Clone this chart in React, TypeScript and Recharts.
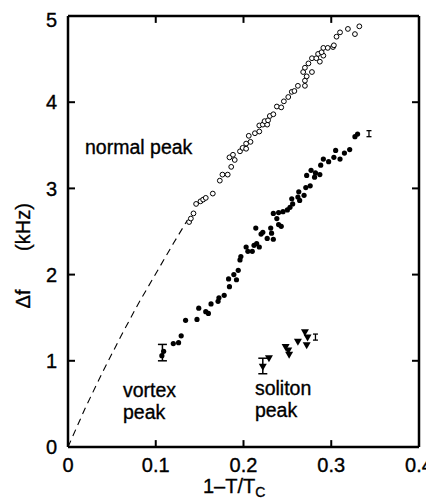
import React from 'react';
import { ScatterChart, Scatter, XAxis, YAxis, ErrorBar, ReferenceDot, ReferenceLine, Label } from 'recharts';

const FONT = '"Liberation Sans", Arial, sans-serif';

const xTicks = [0, 0.1, 0.2, 0.3, 0.4];
const yTicks = [0, 1, 2, 3, 4, 5];
const xInnerTicks = [0.1, 0.2, 0.3];
const yInnerTicks = [1, 2, 3, 4];

// normal peak, open circles [1-T/Tc, kHz]
const normalPeak = [
  [0.138, 2.61], [0.140, 2.65], [0.143, 2.71], [0.146, 2.82], [0.151, 2.85], [0.154, 2.87],
  [0.157, 2.89], [0.165, 2.94], [0.173, 3.09], [0.176, 3.16], [0.182, 3.16], [0.186, 3.25],
  [0.190, 3.33], [0.184, 3.36], [0.188, 3.39], [0.196, 3.43], [0.199, 3.47], [0.203, 3.46],
  [0.203, 3.52], [0.208, 3.54], [0.206, 3.61], [0.213, 3.64], [0.218, 3.66], [0.218, 3.73],
  [0.222, 3.74], [0.227, 3.74], [0.224, 3.78], [0.228, 3.79], [0.230, 3.84], [0.234, 3.86],
  [0.238, 3.95], [0.243, 3.94], [0.246, 4.01], [0.251, 4.06], [0.255, 4.12], [0.258, 4.13],
  [0.262, 4.19], [0.270, 4.19], [0.270, 4.25], [0.272, 4.30], [0.268, 4.35], [0.270, 4.40],
  [0.278, 4.35], [0.274, 4.45], [0.278, 4.51], [0.283, 4.51], [0.287, 4.47], [0.291, 4.54],
  [0.285, 4.56], [0.289, 4.58], [0.291, 4.63], [0.296, 4.63], [0.302, 4.64], [0.303, 4.66],
  [0.306, 4.76], [0.310, 4.81], [0.319, 4.85], [0.327, 4.79], [0.332, 4.88],
];

// vortex peak, filled dots
const vortexPeak = [
  [0.107, 1.06], [0.109, 1.11], [0.120, 1.20], [0.126, 1.21], [0.129, 1.29], [0.134, 1.47],
  [0.147, 1.48], [0.149, 1.61], [0.157, 1.57], [0.160, 1.55], [0.163, 1.66], [0.171, 1.69],
  [0.172, 1.73], [0.178, 1.76], [0.184, 1.86], [0.183, 1.95], [0.189, 2.00], [0.192, 1.94],
  [0.194, 2.05], [0.196, 2.17], [0.197, 2.21], [0.203, 2.32], [0.205, 2.27], [0.210, 2.27],
  [0.212, 2.34], [0.215, 2.36], [0.218, 2.32], [0.214, 2.54], [0.220, 2.47], [0.222, 2.49],
  [0.227, 2.42], [0.234, 2.41], [0.232, 2.48], [0.231, 2.54], [0.240, 2.58], [0.243, 2.56],
  [0.238, 2.65], [0.234, 2.71], [0.240, 2.72], [0.245, 2.73], [0.250, 2.75], [0.253, 2.78],
  [0.256, 2.82], [0.255, 2.88], [0.264, 2.86], [0.262, 2.90], [0.263, 2.96], [0.269, 2.92],
  [0.271, 3.01], [0.276, 3.03], [0.272, 3.15], [0.277, 3.21], [0.281, 3.13], [0.282, 3.18],
  [0.287, 3.16], [0.288, 3.27], [0.291, 3.34], [0.297, 3.31], [0.303, 3.36], [0.305, 3.44],
  [0.310, 3.34], [0.315, 3.41], [0.321, 3.45], [0.327, 3.60], [0.330, 3.63],
];

// soliton peak, filled down triangles
const solitonPeak = [
  [0.222, 0.93], [0.229, 1.03], [0.248, 1.16], [0.251, 1.12], [0.252, 1.07],
  [0.262, 1.22], [0.270, 1.33], [0.273, 1.27], [0.272, 1.18],
];

// dashed extrapolation of the normal peak
const normalExtrap = [
  [0, 0], [0.02, 0.46], [0.04, 0.88], [0.06, 1.28], [0.08, 1.66], [0.10, 2.01], [0.12, 2.36], [0.136, 2.63],
];

// error bars [x, y, half-height]
const bigErrors = [[0.1076, 1.095, 0.095], [0.222, 0.94, 0.09]];
const smallErrors = [[0.343, 3.635, 0.035], [0.282, 1.275, 0.035]];

const pts = (a: number[][]) => a.map(([x, y]) => ({ x, y }));
const errs = (a: number[][]) => a.map(([x, y, err]) => ({ x, y, err }));

// tick lengths in data units (~7px)
const TX = 0.008;
const TY = 0.08;

const OpenCircle = (p: any) => <circle cx={p.cx} cy={p.cy} r={2.4} fill="#fff" stroke="#000" strokeWidth={1} />;
const Dot = (p: any) => <circle cx={p.cx} cy={p.cy} r={2.6} fill="#000" />;
const DownTri = (p: any) => (
  <polygon points={`${p.cx - 4},${p.cy - 3} ${p.cx + 4},${p.cy - 3} ${p.cx},${p.cy + 4}`} fill="#000" />
);
const Nothing = () => <g />;

const textLabel = (lines: string[]) => (props: any) => {
  const { x, y } = props.viewBox;
  return (
    <g fontFamily={FONT} fontSize={19.5} fill="#000" stroke="#000" strokeWidth={0.35}>
      {lines.map((l, i) => (
        <text key={i} x={x} y={y + i * 22}>{l}</text>
      ))}
    </g>
  );
};

const xLabel = (props: any) => {
  const { x, y } = props.viewBox;
  return (
    <text x={x + 135} y={y + 46} fontFamily={FONT} fontSize={20} fill="#000" stroke="#000" strokeWidth={0.35}>
      1–T/T<tspan fontSize={14} dy={4}>C</tspan>
    </text>
  );
};

const yLabel = (props: any) => {
  const { x, y } = props.viewBox;
  const cx = x + 5;
  return (
    <g fontFamily={FONT} fontSize={20} fill="#000" stroke="#000" strokeWidth={0.35}>
      <text x={cx} y={y + 283} transform={`rotate(-90 ${cx} ${y + 283})`} textAnchor="middle" dominantBaseline="central">Δf</text>
      <text x={cx} y={y + 211} transform={`rotate(-90 ${cx} ${y + 211})`} textAnchor="middle" dominantBaseline="central">(kHz)</text>
    </g>
  );
};

const axisLine = { stroke: '#000', strokeWidth: 2.5 };
const tickFont = { fontFamily: FONT, fontSize: 20, fill: '#000', stroke: '#000', strokeWidth: 0.35 };

export default function App() {
  return (
    <ScatterChart width={426} height={494} margin={{ top: 3, right: 5, bottom: 5, left: 10 }}>
      <XAxis dataKey="x" type="number" domain={[0, 0.4]} ticks={xTicks} height={50}
        axisLine={axisLine} tickLine={false} tickSize={0} tickMargin={11} tick={tickFont}>
        <Label content={xLabel} />
      </XAxis>
      <XAxis xAxisId="top" orientation="top" dataKey="x" type="number" domain={[0, 0.4]} ticks={xTicks} height={5}
        axisLine={axisLine} tickLine={false} tick={false} />
      <YAxis dataKey="y" type="number" domain={[0, 5]} ticks={yTicks} width={50}
        axisLine={axisLine} tickLine={false} tickSize={0} tickMargin={11} tick={tickFont}>
        <Label content={yLabel} />
      </YAxis>
      <YAxis yAxisId="right" orientation="right" dataKey="y" type="number" domain={[0, 5]} ticks={yTicks} width={10}
        axisLine={axisLine} tickLine={false} tick={false} />

      {xInnerTicks.map((t) => (
        <ReferenceLine key={`b${t}`} segment={[{ x: t, y: 0 }, { x: t, y: TY }]} stroke="#000" strokeWidth={2} />
      ))}
      {xInnerTicks.map((t) => (
        <ReferenceLine key={`t${t}`} segment={[{ x: t, y: 5 }, { x: t, y: 5 - TY }]} stroke="#000" strokeWidth={2} />
      ))}
      {yInnerTicks.map((t) => (
        <ReferenceLine key={`l${t}`} segment={[{ x: 0, y: t }, { x: TX, y: t }]} stroke="#000" strokeWidth={2} />
      ))}
      {yInnerTicks.map((t) => (
        <ReferenceLine key={`r${t}`} segment={[{ x: 0.4, y: t }, { x: 0.4 - TX, y: t }]} stroke="#000" strokeWidth={2} />
      ))}

      <Scatter data={pts(normalExtrap)} shape={Nothing} line={{ stroke: '#000', strokeWidth: 1.1, strokeDasharray: '7 5' }} isAnimationActive={false} />
      <Scatter data={pts(normalPeak)} shape={OpenCircle} isAnimationActive={false} />
      <Scatter data={pts(vortexPeak)} shape={Dot} isAnimationActive={false} />
      <Scatter data={pts(solitonPeak)} shape={DownTri} isAnimationActive={false} />
      <Scatter data={errs(bigErrors)} shape={Nothing} isAnimationActive={false}>
        <ErrorBar dataKey="err" direction="y" width={4.5} stroke="#000" strokeWidth={1.5} />
      </Scatter>
      <Scatter data={errs(smallErrors)} shape={Nothing} isAnimationActive={false}>
        <ErrorBar dataKey="err" direction="y" width={2.5} stroke="#000" strokeWidth={1.3} />
      </Scatter>

      <ReferenceDot x={0.0194} y={3.40} r={0} stroke="none">
        <Label content={textLabel(['normal  peak'])} />
      </ReferenceDot>
      <ReferenceDot x={0.0627} y={0.575} r={0} stroke="none">
        <Label content={textLabel(['vortex', 'peak'])} />
      </ReferenceDot>
      <ReferenceDot x={0.213} y={0.598} r={0} stroke="none">
        <Label content={textLabel(['soliton', 'peak'])} />
      </ReferenceDot>
    </ScatterChart>
  );
}
